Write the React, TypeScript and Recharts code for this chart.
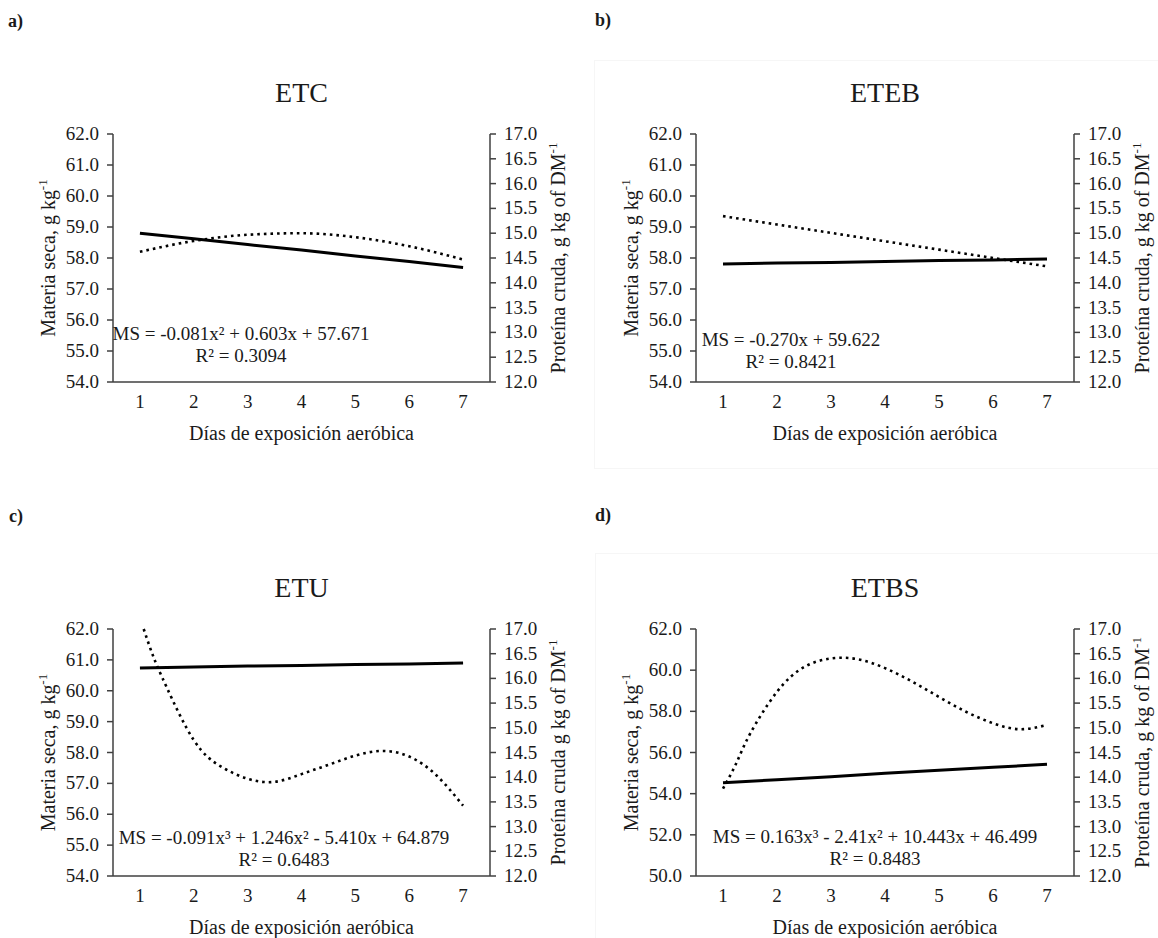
import { LineChart, Line, XAxis, YAxis } from "recharts";

const FONT = '"Liberation Serif", "Times New Roman", serif';

// days of aerobic exposure
const days = [1, 2, 3, 4, 5, 6, 7];
const daysFineC = [1.07, 1.25, 1.5, 2, 2.5, 3, 3.5, 4, 4.5, 5, 5.5, 6, 6.5, 7];
const daysFineD = [1, 1.25, 1.5, 2, 2.5, 3, 3.5, 4, 4.5, 5, 5.5, 6, 6.5, 7];

// materia seca (dotted, left axis)
const msETC = [58.2, 58.55, 58.75, 58.8, 58.67, 58.38, 57.95];
const msETEB = [59.35, 59.08, 58.81, 58.54, 58.27, 58.0, 57.73];
const msETU = [62.0, 61.1, 60.1, 58.4, 57.55, 57.15, 57.05, 57.3, 57.6, 57.9, 58.05, 57.87, 57.27, 56.28];
const msETBS = [54.24, 55.5, 56.9, 58.95, 60.15, 60.57, 60.53, 60.1, 59.45, 58.7, 57.98, 57.42, 57.13, 57.34];

// proteina cruda (solid, right axis)
const pcETC = [15.0, 14.89, 14.77, 14.66, 14.54, 14.43, 14.31];
const pcETEB = [14.38, 14.4, 14.41, 14.43, 14.45, 14.46, 14.48];
const pcETU = [16.21, 16.23, 16.25, 16.26, 16.28, 16.29, 16.31];
const pcETBS = [13.89, 13.95, 14.01, 14.08, 14.14, 14.2, 14.26];

// tick labels
const leftTicks = [54, 55, 56, 57, 58, 59, 60, 61, 62];
const leftTicksETBS = [50, 52, 54, 56, 58, 60, 62];
const rightTicks = [12, 12.5, 13, 13.5, 14, 14.5, 15, 15.5, 16, 16.5, 17];

const AXIS = "#404040";
const TEXT = "#1a1a1a";

// recharts' default tick text ignores the font, so draw ticks ourselves
const SerifTick = ({ x, y, payload, textAnchor, decimals, dy }: any) => (
  <text
    x={x}
    y={y}
    dy={dy}
    textAnchor={textAnchor}
    fontFamily={FONT}
    fontSize={19}
    fill={TEXT}
  >
    {Number(payload.value).toFixed(decimals)}
  </text>
);

interface PanelProps {
  letter: string;
  letterPos: [number, number];
  title: string;
  x0: number;
  y0: number;
  pw: number;
  ph: number;
  msDays: number[];
  ms: number[];
  pc: number[];
  lTicks: number[];
  rightTitle: string;
  eq: string;
  r2: string;
  eqCx: number;
  eqY: number;
  curve: "monotone" | "natural";
  box?: [number, number, number, number];
}

const Panel = (p: PanelProps) => {
  const msData = p.msDays.map((d, i) => ({ day: d, ms: p.ms[i] }));
  const pcData = days.map((d, i) => ({ day: d, pc: p.pc[i] }));
  const cx = p.x0 + p.pw / 2;
  const cy = p.y0 + p.ph / 2;
  const lx = p.x0 - 58;
  const rx = p.x0 + p.pw + 75;

  return (
    <>
      {p.box && (
        <div
          style={{
            position: "absolute",
            left: p.box[0],
            top: p.box[1],
            width: p.box[2],
            height: p.box[3],
            border: "1px solid #f6f6f6",
            boxSizing: "border-box",
          }}
        />
      )}
      <div style={{ position: "absolute", left: p.x0 - 100, top: p.y0 - 20 }}>
        <LineChart
          width={p.pw + 200}
          height={p.ph + 80}
          margin={{ top: 20, right: 40, bottom: 20, left: 40 }}
        >
          <XAxis
            dataKey="day"
            type="number"
            domain={[0.5, 7.5]}
            ticks={days}
            height={40}
            tickLine={false}
            tickSize={6}
            tickMargin={7}
            axisLine={{ stroke: AXIS, strokeWidth: 1.5 }}
            tick={(t: any) => <SerifTick {...t} decimals={0} dy={13} />}
            allowDuplicatedCategory={false}
          />
          <YAxis
            yAxisId="left"
            width={60}
            domain={[p.lTicks[0], p.lTicks[p.lTicks.length - 1]]}
            ticks={p.lTicks}
            interval={0}
            tickSize={6}
            tickMargin={8}
            axisLine={{ stroke: AXIS, strokeWidth: 1.5 }}
            tickLine={{ stroke: AXIS, strokeWidth: 1.5 }}
            tick={(t: any) => <SerifTick {...t} decimals={1} dy={6} />}
          />
          <YAxis
            yAxisId="right"
            orientation="right"
            width={60}
            domain={[12, 17]}
            ticks={rightTicks}
            interval={0}
            tickSize={6}
            tickMargin={8}
            axisLine={{ stroke: AXIS, strokeWidth: 1.5 }}
            tickLine={{ stroke: AXIS, strokeWidth: 1.5 }}
            tick={(t: any) => <SerifTick {...t} decimals={1} dy={6} />}
          />
          <Line
            data={msData}
            yAxisId="left"
            dataKey="ms"
            type={p.curve}
            stroke="#000"
            strokeWidth={2.6}
            strokeDasharray="2.6 4"
            dot={false}
            isAnimationActive={false}
          />
          <Line
            data={pcData}
            yAxisId="right"
            dataKey="pc"
            type="linear"
            stroke="#000"
            strokeWidth={3}
            dot={false}
            isAnimationActive={false}
          />
        </LineChart>
      </div>
      <svg
        width={1158}
        height={938}
        style={{ position: "absolute", left: 0, top: 0, pointerEvents: "none" }}
        fontFamily={FONT}
        fill={TEXT}
      >
        <text x={p.letterPos[0]} y={p.letterPos[1]} fontSize={18} fontWeight="bold">
          {p.letter}
        </text>
        <text x={cx} y={p.y0 - 32} fontSize={28} textAnchor="middle">
          {p.title}
        </text>
        <text x={cx} y={p.y0 + p.ph + 58} fontSize={20} textAnchor="middle">
          Días de exposición aeróbica
        </text>
        <text
          x={lx}
          y={cy}
          fontSize={20}
          textAnchor="middle"
          transform={`rotate(-90 ${lx} ${cy})`}
        >
          Materia seca, g kg
          <tspan fontSize={13} dy={-8}>-1</tspan>
        </text>
        <text
          x={rx}
          y={cy}
          fontSize={20}
          textAnchor="middle"
          transform={`rotate(-90 ${rx} ${cy})`}
        >
          {p.rightTitle}
          <tspan fontSize={13} dy={-8}>-1</tspan>
        </text>
        <text x={p.eqCx} y={p.eqY} fontSize={19} textAnchor="middle">
          {p.eq}
        </text>
        <text x={p.eqCx} y={p.eqY + 22} fontSize={19} textAnchor="middle">
          {p.r2}
        </text>
      </svg>
    </>
  );
};

const App = () => {
  return (
    <div
      style={{
        position: "absolute",
        left: 0,
        top: 0,
        width: 1158,
        height: 938,
        background: "#fff",
        overflow: "hidden",
      }}
    >
      <Panel
        letter="a)"
        letterPos={[8, 27]}
        title="ETC"
        x0={113}
        y0={134}
        pw={377}
        ph={248}
        msDays={days}
        ms={msETC}
        pc={pcETC}
        lTicks={leftTicks}
        rightTitle="Proteína cruda, g kg of DM"
        eq="MS = -0.081x² + 0.603x + 57.671"
        r2="R² = 0.3094"
        eqCx={241}
        eqY={340}
        curve="monotone"
      />
      <Panel
        letter="b)"
        letterPos={[595, 26]}
        title="ETEB"
        x0={696}
        y0={134}
        pw={378}
        ph={248}
        msDays={days}
        ms={msETEB}
        pc={pcETEB}
        lTicks={leftTicks}
        rightTitle="Proteína cruda, g kg of DM"
        eq="MS = -0.270x + 59.622"
        r2="R² = 0.8421"
        eqCx={791}
        eqY={346}
        curve="monotone"
        box={[594, 60, 580, 409]}
      />
      <Panel
        letter="c)"
        letterPos={[9, 522]}
        title="ETU"
        x0={113}
        y0={629}
        pw={377}
        ph={247}
        msDays={daysFineC}
        ms={msETU}
        pc={pcETU}
        lTicks={leftTicks}
        rightTitle="Proteína cruda g kg of DM"
        eq="MS = -0.091x³ + 1.246x² - 5.410x + 64.879"
        r2="R² = 0.6483"
        eqCx={284}
        eqY={844}
        curve="natural"
      />
      <Panel
        letter="d)"
        letterPos={[595, 521]}
        title="ETBS"
        x0={696}
        y0={629}
        pw={378}
        ph={247}
        msDays={daysFineD}
        ms={msETBS}
        pc={pcETBS}
        lTicks={leftTicksETBS}
        rightTitle="Proteína cruda, g kg of DM"
        eq="MS = 0.163x³ - 2.41x² + 10.443x + 46.499"
        r2="R² = 0.8483"
        eqCx={875}
        eqY={843}
        curve="natural"
        box={[595, 553, 580, 400]}
      />
    </div>
  );
};

export default App;
